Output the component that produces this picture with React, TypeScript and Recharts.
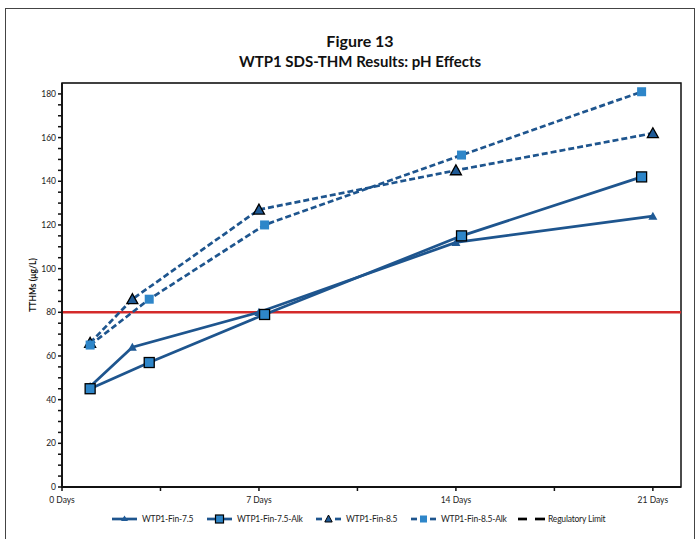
import { LineChart, Line, XAxis, YAxis, CartesianGrid, ReferenceLine, ReferenceArea } from "recharts";

const FIN75_DAYS = [1, 2.5, 7, 14, 21];
const FIN75 = [46, 64, 80, 112, 124];
const FIN75ALK_DAYS = [1, 3.1, 7.2, 14.2, 20.6];
const FIN75ALK = [45, 57, 79, 115, 142];
const FIN85_DAYS = [1, 2.5, 7, 14, 21];
const FIN85 = [66, 86, 127, 145, 162];
const FIN85ALK_DAYS = [1, 3.1, 7.2, 14.2, 20.6];
const FIN85ALK = [65, 86, 120, 152, 181];
const REG_LIMIT = 80;

const X_MAX = 22;
const Y_MAX = 185;
const X_TICKS = [0, 3.5, 7, 10.5, 14, 17.5, 21];
const X_LABELS: Record<number, string> = { 0: "0 Days", 7: "7 Days", 14: "14 Days", 21: "21 Days" };
const Y_MAJOR = [0, 20, 40, 60, 80, 100, 120, 140, 160, 180];
const Y_MINOR = [
  0, 5, 10, 15, 20, 25, 30, 35, 40, 45, 50, 55, 60, 65, 70, 75, 80, 85, 90, 95, 100, 105, 110, 115, 120,
  125, 130, 135, 140, 145, 150, 155, 160, 165, 170, 175, 180,
];

const LINE = "#1E558E";
const DARK = "#1F5A96";
const LIGHT = "#2E86C9";
const FONT = "Lato, 'Open Sans', sans-serif";

const toPoints = (days: number[], vals: number[]) => days.map((d, i) => ({ x: d, y: vals[i] }));

function triangleDot(size: number, fill: string, stroke?: string) {
  return (p: any) => {
    const { cx, cy, index } = p;
    if (cx == null || cy == null) return <g key={index} />;
    const pts = `${cx},${cy - size} ${cx - size},${cy + size * 0.8} ${cx + size},${cy + size * 0.8}`;
    return <polygon key={index} points={pts} fill={fill} stroke={stroke ?? "none"} strokeWidth={1.3} />;
  };
}

function squareDot(size: number, fill: string, stroke?: string) {
  return (p: any) => {
    const { cx, cy, index } = p;
    if (cx == null || cy == null) return <g key={index} />;
    return (
      <rect key={index} x={cx - size} y={cy - size} width={size * 2} height={size * 2} fill={fill} stroke={stroke ?? "none"} strokeWidth={1.3} />
    );
  };
}

function LegendItem({ left, label, kind }: { left: number; label: string; kind: string }) {
  let glyph = null;
  if (kind === "tri") {
    glyph = (
      <>
        <line x1={0} y1={6} x2={25} y2={6} stroke={LINE} strokeWidth={2.7} />
        <polygon points="12.5,2.5 9,8 16,8" fill={DARK} />
      </>
    );
  } else if (kind === "sq") {
    glyph = (
      <>
        <line x1={0} y1={6} x2={25} y2={6} stroke={LINE} strokeWidth={2.7} />
        <rect x={8.5} y={2} width={8} height={8} fill={LIGHT} stroke="#000" strokeWidth={1.2} />
      </>
    );
  } else if (kind === "dtri") {
    glyph = (
      <>
        <line x1={0} y1={6} x2={6} y2={6} stroke={LINE} strokeWidth={2.7} />
        <line x1={19} y1={6} x2={25} y2={6} stroke={LINE} strokeWidth={2.7} />
        <polygon points="12.5,2 8.8,9 16.2,9" fill={DARK} stroke="#000" strokeWidth={1} />
      </>
    );
  } else if (kind === "dsq") {
    glyph = (
      <>
        <line x1={0} y1={6} x2={6} y2={6} stroke={LINE} strokeWidth={2.7} />
        <line x1={19} y1={6} x2={25} y2={6} stroke={LINE} strokeWidth={2.7} />
        <rect x={9} y={2.5} width={7} height={7} fill={LIGHT} />
      </>
    );
  } else {
    glyph = (
      <>
        <line x1={0} y1={6} x2={9} y2={6} stroke="#000" strokeWidth={2.7} />
        <line x1={17} y1={6} x2={27} y2={6} stroke="#000" strokeWidth={2.7} />
      </>
    );
  }
  return (
    <div style={{ position: "absolute", left, top: 513, display: "flex", alignItems: "center", whiteSpace: "nowrap" }}>
      <svg width={28} height={12} style={{ marginRight: 2 }}>
        {glyph}
      </svg>
      <span style={{ fontSize: 8.5, letterSpacing: -0.2, color: "#222", fontFamily: FONT }}>{label}</span>
    </div>
  );
}

export default function App() {
  return (
    <div style={{ position: "fixed", left: 0, top: 0, width: 697, height: 539, overflow: "hidden", background: "#fff", fontFamily: FONT }}>
      <div style={{ position: "absolute", left: 5, top: 8, width: 688, height: 600, border: "1.5px solid #444" }} />
      <div style={{ position: "absolute", left: 0, width: 720, top: 31, textAlign: "center", fontWeight: 700, fontSize: 15, color: "#111", lineHeight: "20px" }}>
        <div style={{ fontSize: 16 }}>Figure 13</div>
        <div>WTP1 SDS-THM Results: pH Effects</div>
      </div>
      <div
        style={{
          position: "absolute",
          left: 33,
          top: 285,
          transform: "translate(-50%, -50%) rotate(-90deg)",
          fontSize: 8.5,
          fontWeight: 700,
          color: "#111",
          whiteSpace: "nowrap",
        }}
      >
        TTHMs (µg/L)
      </div>
      <div style={{ position: "absolute", left: 0, top: 0 }}>
        <LineChart width={697} height={539} margin={{ top: 83, right: 16, bottom: 32, left: 32 }}>
          <CartesianGrid horizontal vertical={false} stroke="#A8A8A8" strokeWidth={1.2} xAxisId="main" yAxisId="grid" />
          <XAxis
            xAxisId="main"
            type="number"
            dataKey="x"
            domain={[0, X_MAX]}
            ticks={X_TICKS}
            allowDataOverflow
            tickFormatter={(v: number) => X_LABELS[v] ?? ""}
            tick={{ fontSize: 8.5, fill: "#222", fontFamily: FONT }}
            axisLine={{ stroke: "#111", strokeWidth: 1.8 }}
            tickLine={{ stroke: "#111", strokeWidth: 1.5 }}
            tickSize={4}
            tickMargin={6}
            height={20}
          />
          <XAxis
            xAxisId="inner"
            type="number"
            domain={[0, X_MAX]}
            ticks={X_TICKS}
            mirror
            tick={false}
            axisLine={false}
            tickLine={{ stroke: "#111", strokeWidth: 1.5 }}
            tickSize={4}
            height={0}
          />
          <YAxis
            yAxisId="main"
            type="number"
            domain={[0, Y_MAX]}
            ticks={Y_MINOR}
            interval={0}
            tickFormatter={(v: number) => (v % 20 === 0 ? String(v) : "")}
            tick={{ fontSize: 8.5, fill: "#222", fontFamily: FONT }}
            axisLine={{ stroke: "#111", strokeWidth: 1.8 }}
            tickLine={{ stroke: "#111", strokeWidth: 1.5 }}
            tickSize={4}
            width={30}
          />
          <YAxis
            yAxisId="inner"
            type="number"
            domain={[0, Y_MAX]}
            ticks={Y_MINOR}
            interval={0}
            mirror
            tick={false}
            axisLine={false}
            tickLine={{ stroke: "#111", strokeWidth: 1.5 }}
            tickSize={4}
            width={0}
          />
          <YAxis yAxisId="grid" type="number" domain={[0, Y_MAX]} ticks={Y_MAJOR} hide width={0} />
          <ReferenceArea
            xAxisId="main"
            yAxisId="main"
            x1={0}
            x2={X_MAX}
            y1={0}
            y2={Y_MAX}
            fill="none"
            fillOpacity={0}
            stroke="#111"
            strokeWidth={1.5}
            ifOverflow="visible"
          />
          <ReferenceLine xAxisId="main" yAxisId="main" y={REG_LIMIT} stroke="#D42A2A" strokeWidth={2.5} />
          <Line
            xAxisId="main"
            yAxisId="main"
            data={toPoints(FIN85_DAYS, FIN85)}
            dataKey="y"
            name="WTP1-Fin-8.5"
            stroke={LINE}
            strokeWidth={2.7}
            strokeDasharray="6 3"
            dot={triangleDot(5.5, DARK, "#000")}
            isAnimationActive={false}
          />
          <Line
            xAxisId="main"
            yAxisId="main"
            data={toPoints(FIN85ALK_DAYS, FIN85ALK)}
            dataKey="y"
            name="WTP1-Fin-8.5-Alk"
            stroke={LINE}
            strokeWidth={2.7}
            strokeDasharray="6 3"
            dot={squareDot(4.5, LIGHT)}
            isAnimationActive={false}
          />
          <Line
            xAxisId="main"
            yAxisId="main"
            data={toPoints(FIN75_DAYS, FIN75)}
            dataKey="y"
            name="WTP1-Fin-7.5"
            stroke={LINE}
            strokeWidth={2.7}
            dot={triangleDot(4.5, DARK)}
            isAnimationActive={false}
          />
          <Line
            xAxisId="main"
            yAxisId="main"
            data={toPoints(FIN75ALK_DAYS, FIN75ALK)}
            dataKey="y"
            name="WTP1-Fin-7.5-Alk"
            stroke={LINE}
            strokeWidth={2.7}
            dot={squareDot(5, LIGHT, "#000")}
            isAnimationActive={false}
          />
        </LineChart>
      </div>
      <LegendItem left={112} label="WTP1-Fin-7.5" kind="tri" />
      <LegendItem left={207} label="WTP1-Fin-7.5-Alk" kind="sq" />
      <LegendItem left={316} label="WTP1-Fin-8.5" kind="dtri" />
      <LegendItem left={411} label="WTP1-Fin-8.5-Alk" kind="dsq" />
      <LegendItem left={518} label="Regulatory Limit" kind="reg" />
    </div>
  );
}
